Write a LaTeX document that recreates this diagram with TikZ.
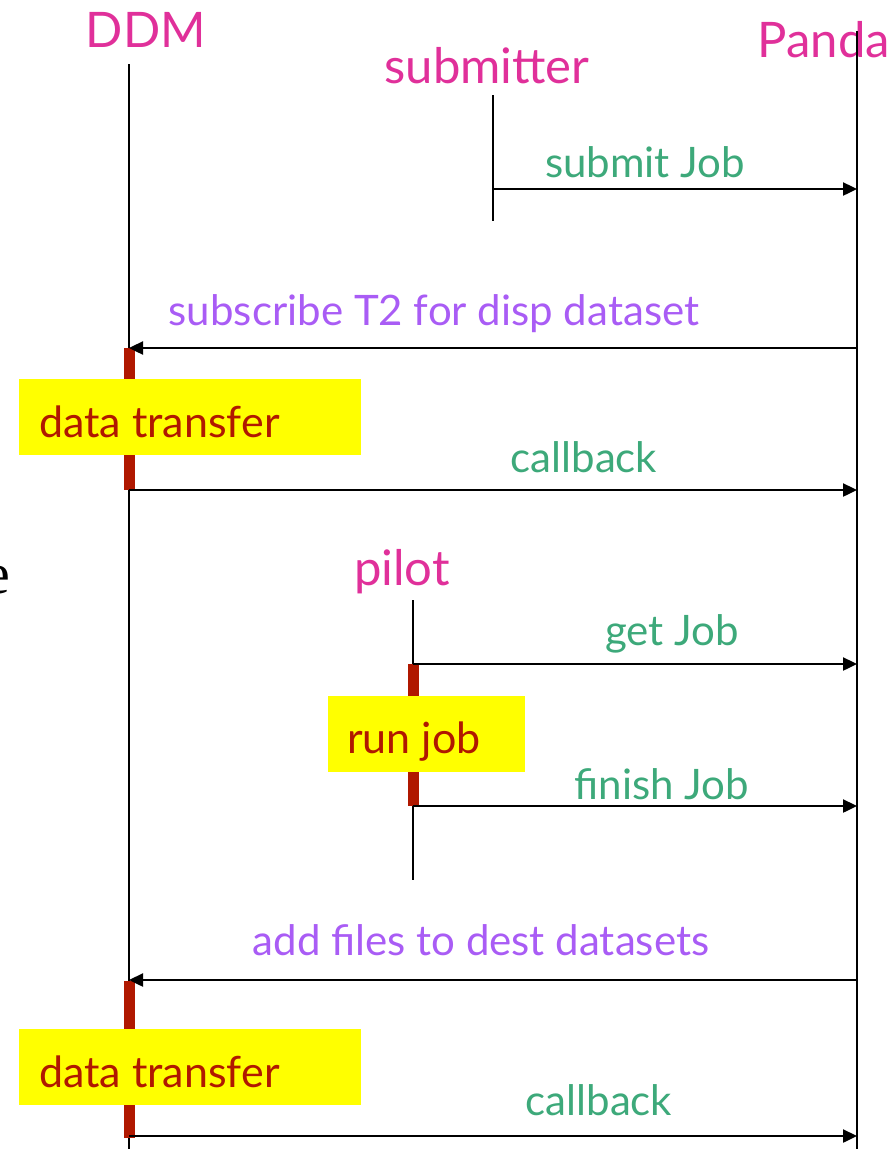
\documentclass[tikz,border=0pt]{standalone}
\usepackage{fontspec}
\setmainfont{Lato}
\newfontfamily\serifefont{Liberation Serif}
\usetikzlibrary{arrows.meta}
\definecolor{actorc}{HTML}{E0309A}
\definecolor{msggreen}{HTML}{3DA97A}
\definecolor{msgpurple}{HTML}{A95CF5}
\definecolor{barred}{HTML}{B01800}
\definecolor{boxyellow}{HTML}{FFFF00}
\begin{document}
\begin{tikzpicture}[x=1pt,y=-1pt,
  actor/.style={text=actorc, font=\fontsize{49}{49}\selectfont, anchor=base, inner sep=0pt},
  msg/.style={font=\fontsize{42}{42}\selectfont, anchor=base, inner sep=0pt},
  green/.style={msg, text=msggreen},
  purple/.style={msg, text=msgpurple},
  life/.style={line width=2pt, black},
  arr/.style={line width=2.4pt, black, -{Triangle[length=14pt,width=13pt]}},
  actbar/.style={fill=barred, draw=none},
  notebox/.style={fill=boxyellow, draw=none, inner sep=0pt, anchor=north west},
  notetext/.style={text=barred, font=\fontsize{43}{43}\selectfont, anchor=base west, inner sep=0pt}]
\useasboundingbox (0,0) rectangle (894,1149);

% actors
\node[actor] (ddm) at (146,47) {DDM};
\node[actor] (panda) at (824,57) {Panda};
\node[actor] (sub) at (487,83) {submitter};
\node[actor] (pilot) at (402,585) {pilot};

% lifeline ends
\coordinate (ddmTop) at (129,64);
\coordinate (ddmBot) at (129,1149);
\coordinate (pandaTop) at (857,31);
\coordinate (pandaBot) at (857,1149);
\coordinate (subTop) at (493,95);
\coordinate (subBot) at (493,221);
\coordinate (pilotTop) at (413,600);
\coordinate (pilotBot) at (413,880);

\draw[life] (ddmTop) -- (ddmBot);
\draw[life] (pandaTop) -- (pandaBot);
\draw[life] (subTop) -- (subBot);
\draw[life] (pilotTop) -- (pilotBot);

% activation bars
\fill[actbar] (123.5,348) rectangle (134.5,490);
\fill[actbar] (407.5,664) rectangle (418.5,806);
\fill[actbar] (123.5,981) rectangle (134.5,1138);

% notes
\node[notebox, minimum width=342pt, minimum height=76pt] (dt1box) at (19,379) {};
\node[notetext] (dt1) at (39,437) {data transfer};
\node[notebox, minimum width=197pt, minimum height=76pt] (rjbox) at (328,696) {};
\node[notetext] (rj) at (347,753) {run job};
\node[notebox, minimum width=342pt, minimum height=76pt] (dt2box) at (19,1029) {};
\node[notetext] (dt2) at (39,1087) {data transfer};

% message anchor points
\coordinate (s1) at (493,189);   \coordinate (p1) at (857,189);
\coordinate (p2) at (857,348);   \coordinate (d2) at (129,348);
\coordinate (d3) at (129,490);   \coordinate (p3) at (857,490);
\coordinate (q4) at (413,664);   \coordinate (p4) at (857,664);
\coordinate (q5) at (413,806);   \coordinate (p5) at (857,806);
\coordinate (p6) at (857,980);   \coordinate (d6) at (129,980);
\coordinate (d7) at (129,1136);  \coordinate (p7) at (857,1136);

\draw[arr] (s1) -- (p1);
\draw[arr] (p2) -- (d2);
\draw[arr] (d3) -- (p3);
\draw[arr] (q4) -- (p4);
\draw[arr] (q5) -- (p5);
\draw[arr] (p6) -- (d6);
\draw[arr] (d7) -- (p7);

% message labels
\node[green] (m1) at (645,177) {submit Job};
\node[purple] (m2) at (434,325) {subscribe T2 for disp dataset};
\node[green] (m3) at (584,472) {callback};
\node[green] (m4) at (672,645) {get Job};
\node[green] (m5) at (662,799) {finish Job};
\node[purple] (m6) at (481,955) {add files to dest datasets};
\node[green] (m7) at (599,1115) {callback};

% letter cut by the left edge, as in the reference
\node[anchor=base east, inner sep=0pt, font=\serifefont\fontsize{58}{58}\selectfont] (edge) at (10,593) {e};
\end{tikzpicture}
\end{document}
